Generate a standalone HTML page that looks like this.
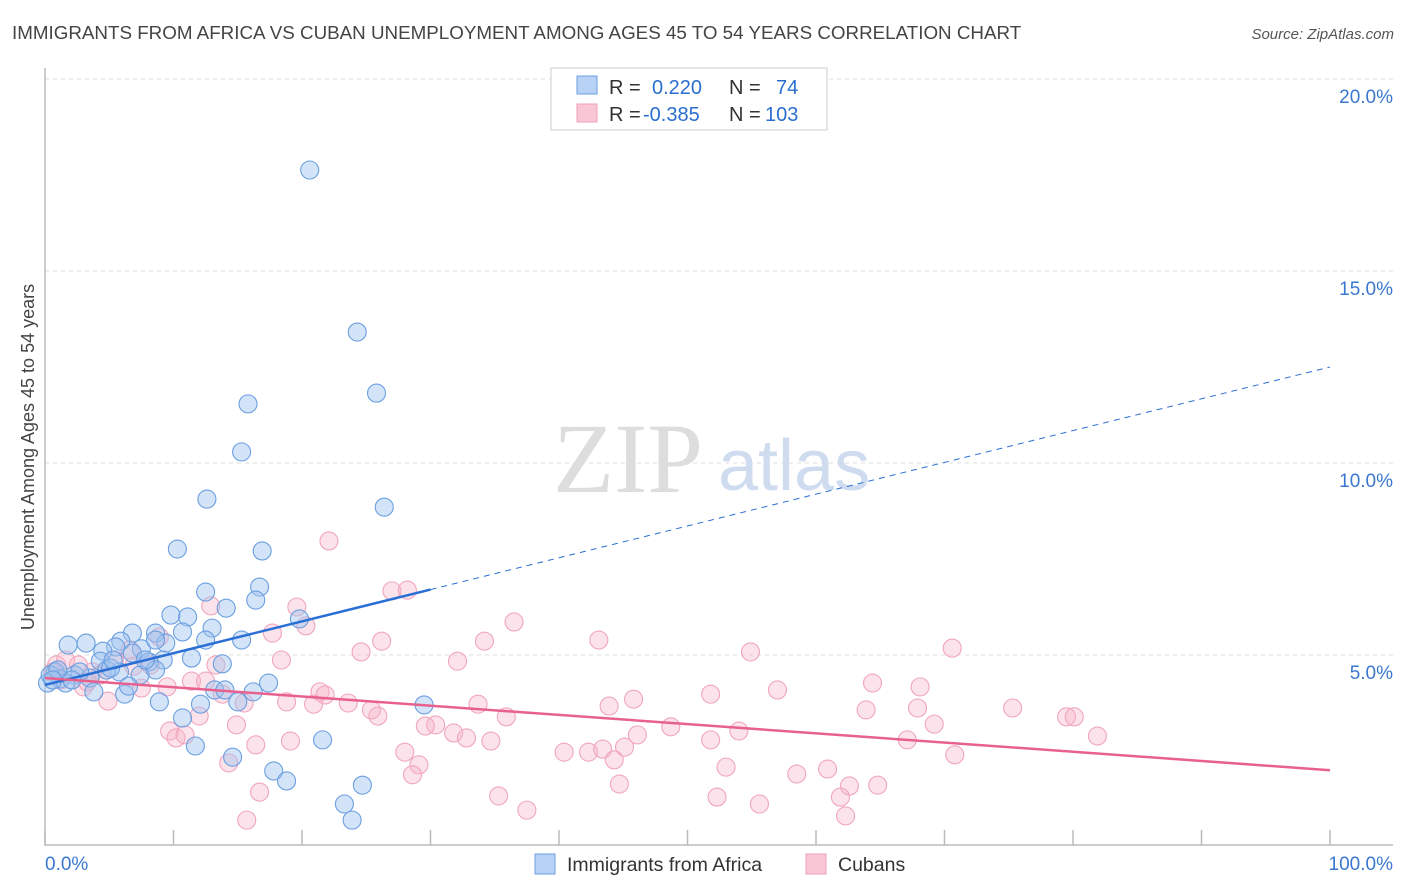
<!DOCTYPE html>
<html><head><meta charset="utf-8"><style>
body{margin:0;background:#fff;font-family:"Liberation Sans",sans-serif}
svg{display:block}
</style></head><body>
<svg id="chart" width="1406" height="892">
<text x="12" y="39" font-size="18.8" fill="#444">IMMIGRANTS FROM AFRICA VS CUBAN UNEMPLOYMENT AMONG AGES 45 TO 54 YEARS CORRELATION CHART</text>
<text x="1394" y="39" font-size="15" fill="#555" font-style="italic" text-anchor="end">Source: ZipAtlas.com</text>
<g id="grid"></g>
<text x="553" y="492" font-size="100" fill="#ddd" font-family="Liberation Serif,serif">ZIP</text>
<text x="718" y="490" font-size="72" fill="#cfdcef">atlas</text>
<g id="marks"></g>
<text transform="translate(34,457) rotate(-90)" font-size="18" fill="#444" text-anchor="middle">Unemployment Among Ages 45 to 54 years</text>
<g>
<rect x="551" y="68" width="276" height="62" fill="#fff" stroke="#ccc"/>
<rect x="577" y="76" width="20" height="18" fill="#b8d2f5" stroke="#6a9fe0"/>
<rect x="577" y="104" width="20" height="18" fill="#f9c6d4" stroke="#f0a0b8"/>
<text x="609" y="94" font-size="20" fill="#333">R = <tspan fill="#2a6fd0" x="652">0.220</tspan><tspan x="729">N = </tspan><tspan fill="#2a6fd0" x="776">74</tspan></text>
<text x="609" y="121" font-size="20" fill="#333">R = <tspan fill="#2a6fd0" x="643">-0.385</tspan><tspan x="729">N = </tspan><tspan fill="#2a6fd0" x="765">103</tspan></text>
</g>
<g>
<rect x="535" y="854" width="20" height="20" fill="#b8d2f5" stroke="#6a9fe0"/>
<text x="567" y="871" font-size="19.5" fill="#333">Immigrants from Africa</text>
<rect x="806" y="854" width="20" height="20" fill="#f9c6d4" stroke="#f0a0b8"/>
<text x="838" y="871" font-size="19.5" fill="#333">Cubans</text>
</g>
</svg>
<script>
const xTicks=[0,10,20,30,40,50,60,70,80,90,100];
const yTicks=[5,10,15,20];
const yTickLabels=["5.0%","10.0%","15.0%","20.0%"];
const blueX=[20.6,24.3,25.8,15.8,15.3,12.6,26.4,10.3,16.9,16.7,12.5,16.4,14.1,9.8,11.1,19.8,13.0,8.6,10.7,6.8,1.8,3.2,5.9,7.5,9.4,15.3,5.5,4.5,6.8,9.2,8.1,11.4,13.8,4.3,0.8,1.2,2.3,3.5,5.8,4.8,7.4,8.6,0.2,1.6,3.8,6.2,6.5,8.9,12.1,13.2,14.0,15.0,16.2,17.4,29.5,10.7,11.7,21.6,14.6,17.8,18.8,24.7,23.3,23.9,0.4,1.0,2.7,5.1,7.8,8.6,12.5,5.3,2.1,0.6];
const blueY=[17.63,13.41,11.82,11.54,10.29,9.06,8.85,7.76,7.71,6.77,6.64,6.43,6.22,6.04,5.99,5.94,5.70,5.57,5.60,5.57,5.26,5.31,5.36,5.16,5.31,5.39,5.21,5.10,5.05,4.87,4.82,4.92,4.77,4.84,4.56,4.38,4.48,4.40,4.56,4.61,4.48,4.61,4.27,4.27,4.04,3.98,4.19,3.78,3.72,4.09,4.09,3.78,4.04,4.27,3.70,3.36,2.63,2.79,2.34,1.98,1.72,1.61,1.12,0.70,4.48,4.61,4.56,4.66,4.87,5.39,5.39,4.87,4.35,4.35];
const pinkX=[22.1,12.9,19.6,20.3,27.0,28.2,36.5,43.1,34.2,26.2,24.6,32.1,17.7,18.4,13.3,8.9,54.9,70.6,64.4,68.1,51.8,57.0,45.8,43.9,63.9,67.9,75.3,79.5,80.1,69.2,54.0,48.7,35.9,33.7,30.4,29.6,25.9,25.4,23.6,21.4,21.8,20.9,18.8,14.9,15.5,13.8,12.0,11.4,12.5,9.5,7.5,4.9,3.0,0.9,1.6,3.7,6.9,4.3,0.6,1.2,9.7,10.2,10.9,16.4,19.1,28.0,31.8,32.8,34.7,40.4,42.3,43.4,45.1,46.1,44.3,51.8,67.1,70.8,81.9,29.1,28.6,53.0,58.5,60.9,62.6,64.8,44.7,35.3,37.5,52.3,55.6,61.9,62.3,16.7,14.3,15.7,5.4,6.6,8.2,2.6,3.3];
const pinkY=[7.97,6.28,6.25,5.76,6.67,6.69,5.86,5.39,5.36,5.36,5.08,4.84,5.57,4.87,4.74,5.47,5.08,5.18,4.27,4.17,3.98,4.09,3.85,3.67,3.57,3.62,3.62,3.39,3.39,3.20,3.02,3.13,3.39,3.72,3.18,3.15,3.41,3.57,3.75,4.04,3.96,3.72,3.78,3.18,3.75,3.98,3.41,4.32,4.32,4.17,4.14,3.80,4.17,4.74,4.87,4.56,4.71,4.48,4.56,4.35,3.02,2.84,2.92,2.66,2.76,2.47,2.97,2.84,2.76,2.47,2.47,2.55,2.60,2.92,2.27,2.79,2.79,2.40,2.89,2.14,1.88,2.08,1.90,2.03,1.59,1.61,1.64,1.33,0.96,1.30,1.12,1.30,0.81,1.43,2.19,0.70,4.87,5.13,4.74,4.74,4.30];
const blueTrend=[4.22,12.5]; // y at x=0 and x=100
const blueSolidEnd=30;
const pinkTrend=[4.4,2.0];
const NS="http://www.w3.org/2000/svg";
const sx=v=>45+v*12.85, sy=v=>847-v*38.4;
function mk(t,a,p){const e=document.createElementNS(NS,t);for(const k in a)e.setAttribute(k,a[k]);p.appendChild(e);return e;}
const grid=document.getElementById('grid'), marks=document.getElementById('marks');
yTicks.forEach((t,i)=>{
 const g=mk('line',{x1:45,x2:1393,y1:sy(t),y2:sy(t),stroke:'#ddd','stroke-dasharray':'4,4'},grid);
 
 
 const l=mk('text',{x:1393,y:sy(t)+24,'font-size':19,fill:'#3a78d0','text-anchor':'end'},grid);
 l.textContent=yTickLabels[i];
 
 
});
const ax=mk('path',{d:'M45,68 V845 H1393',fill:'none',stroke:'#bbb','stroke-width':1.5},grid);


xTicks.forEach(t=>{
 const tk=mk('line',{x1:sx(t),x2:sx(t),y1:830,y2:845,stroke:'#bbb','stroke-width':1.5},grid);
 
 
});
const xl0=mk('text',{x:45,y:870,'font-size':19,fill:'#3a78d0'},grid);xl0.textContent='0.0%';


const xl1=mk('text',{x:1393,y:870,'font-size':19,fill:'#3a78d0','text-anchor':'end'},grid);xl1.textContent='100.0%';


function dots(X,Y,fill,stroke,name){X.forEach((x,i)=>{
 const c=mk('circle',{cx:sx(x),cy:sy(Y[i]),r:9,fill:fill,stroke:stroke,'stroke-width':1.1},marks);
 
 
});}
dots(pinkX,pinkY,'rgba(248,182,202,0.4)','#f0a6bd','cubans-point');
dots(blueX,blueY,'rgba(160,196,240,0.45)','#6a9fe0','africa-point');
const by=x=>blueTrend[0]+(blueTrend[1]-blueTrend[0])*x/100;
const b1=mk('line',{x1:sx(0),y1:sy(by(0)),x2:sx(blueSolidEnd),y2:sy(by(blueSolidEnd)),stroke:'#2a6fd6','stroke-width':2.5},marks);


const b2=mk('line',{x1:sx(blueSolidEnd),y1:sy(by(blueSolidEnd)),x2:sx(100),y2:sy(by(100)),stroke:'#2a6fd6','stroke-width':1,'stroke-dasharray':'6,5'},marks);


const p1=mk('line',{x1:sx(0),y1:sy(pinkTrend[0]),x2:sx(100),y2:sy(pinkTrend[1]),stroke:'#e8608e','stroke-width':2.5},marks);


</script>
</body></html>
